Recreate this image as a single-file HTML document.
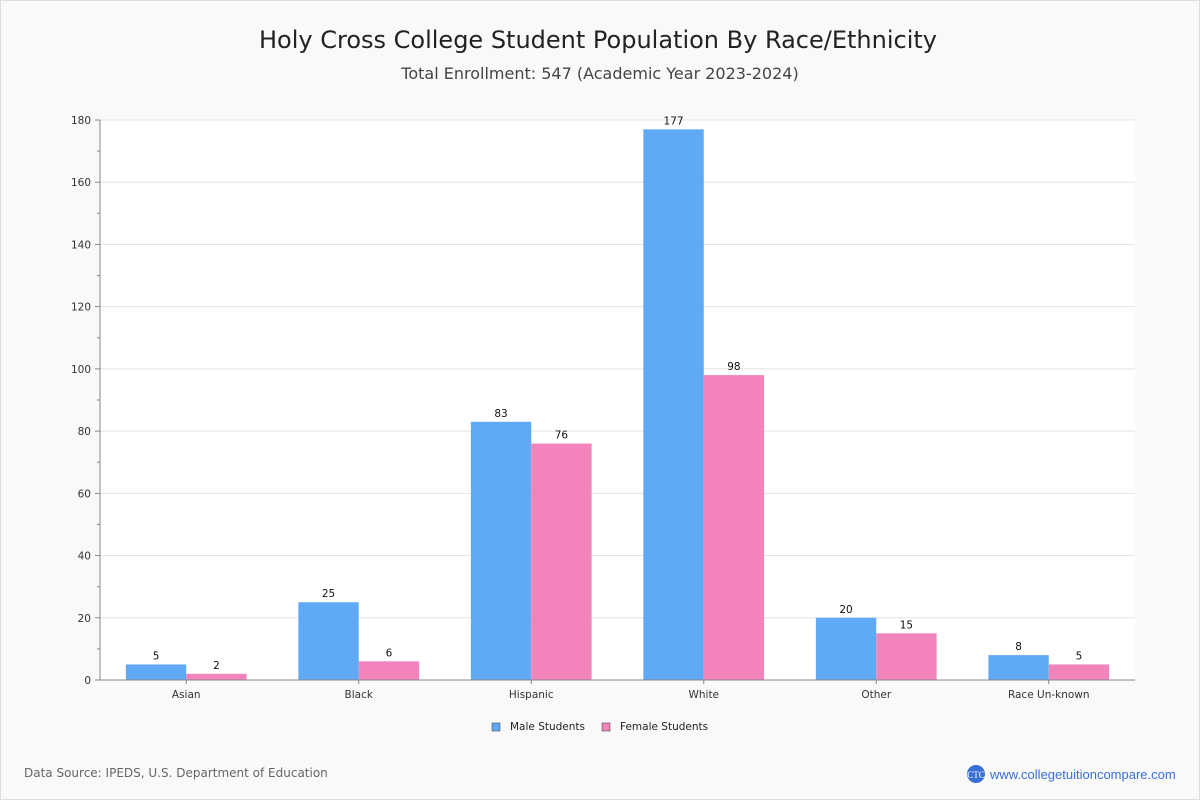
<!DOCTYPE html>
<html><head><meta charset="utf-8"><style>
html,body{margin:0;padding:0;background:#f9f9f9;}
body{width:1200px;height:800px;overflow:hidden;font-family:"DejaVu Sans","Liberation Sans",sans-serif;}
#frame{position:absolute;left:0;top:0;width:1198px;height:798px;border:1px solid #ddd;}
</style></head><body>
<div id="frame"></div>
<svg id="chart" width="1200" height="800" style="position:absolute;left:0;top:0">
<text x="598" y="48" text-anchor="middle" font-size="24" fill="#222">Holy Cross College Student Population By Race/Ethnicity</text>
<text x="600" y="79" text-anchor="middle" font-size="16" fill="#444">Total Enrollment: 547 (Academic Year 2023-2024)</text>
<rect x="100" y="120" width="1035" height="560" fill="#fff"/>
<g id="grid"></g><g id="bars"></g><g id="axes"></g>
<g>
<rect x="492" y="723" width="8" height="8" fill="#60a9f4" stroke="#333" stroke-width="0.5"/>
<text x="510" y="730" font-size="10.5" fill="#222">Male Students</text>
<rect x="602" y="723" width="8" height="8" fill="#f283bb" stroke="#333" stroke-width="0.5"/>
<text x="620" y="730" font-size="10.5" fill="#222">Female Students</text>
</g>
<text x="24" y="777" font-size="12" fill="#666">Data Source: IPEDS, U.S. Department of Education</text>
<g>
<circle cx="976" cy="774" r="9" fill="#3a6fd8"/>
<text x="976" y="778" text-anchor="middle" font-size="9" fill="#fff" font-family="Liberation Serif,serif">CTC</text>
<text x="990" y="779" font-size="13" fill="#3a6fd8" font-family="Liberation Sans,sans-serif">www.collegetuitioncompare.com</text>
</g>
</svg>
<script>
const categories=["Asian","Black","Hispanic","White","Other","Race Un-known"];
const maleValues=[5,25,83,177,20,8];
const femaleValues=[2,6,76,98,15,5];
const yTicks=[0,20,40,60,80,100,120,140,160,180];
const NS="http://www.w3.org/2000/svg";
const L=100,R=1135,T=120,B=680,yMax=180;
const y=v=>B-(v/yMax)*(B-T);
const band=(R-L)/categories.length;
const bw=band*0.35;
function mk(p,tag,a){const e=document.createElementNS(NS,tag);for(const k in a)e.setAttribute(k,a[k]);p.appendChild(e);return e;}
const grid=document.getElementById('grid'),bars=document.getElementById('bars'),axes=document.getElementById('axes');
yTicks.forEach(t=>{
  if(t>0){const g=mk(grid,'line',{x1:L,x2:R,y1:y(t),y2:y(t),stroke:'#e3e3e3'});
  
  }
  const tk=mk(axes,'line',{x1:L-5,x2:L,y1:y(t),y2:y(t),stroke:'#888'});
  
  
  const lb=mk(axes,'text',{x:L-9,y:y(t)+4,'text-anchor':'end','font-size':10.5,fill:'#333'});lb.textContent=t;
  
  
});
for(let t=10;t<yMax;t+=20){const m=mk(axes,'line',{x1:L-3,x2:L,y1:y(t),y2:y(t),stroke:'#888'});
  
  }
const ya=mk(axes,'line',{x1:L,x2:L,y1:T,y2:B,stroke:'#888'});


const xa=mk(axes,'line',{x1:L,x2:R,y1:B,y2:B,stroke:'#888'});


categories.forEach((c,i)=>{
  const cx=L+band*(i+0.5);
  [[maleValues[i],'#60a9f4',cx-bw,'male'],[femaleValues[i],'#f283bb',cx,'female']].forEach(([v,col,x,s])=>{
    const r=mk(bars,'rect',{x:x,y:y(v),width:bw,height:B-y(v),fill:col});
    
    
    const t=mk(bars,'text',{x:x+bw/2,y:y(v)-5,'text-anchor':'middle','font-size':10.5,fill:'#111'});t.textContent=v;
    
    
  });
  const tk=mk(axes,'line',{x1:cx,x2:cx,y1:B,y2:B+4,stroke:'#888'});
  
  
  const lb=mk(axes,'text',{x:cx,y:B+18,'text-anchor':'middle','font-size':10.5,fill:'#333'});lb.textContent=c;
  
  
});
</script>
</body></html>
